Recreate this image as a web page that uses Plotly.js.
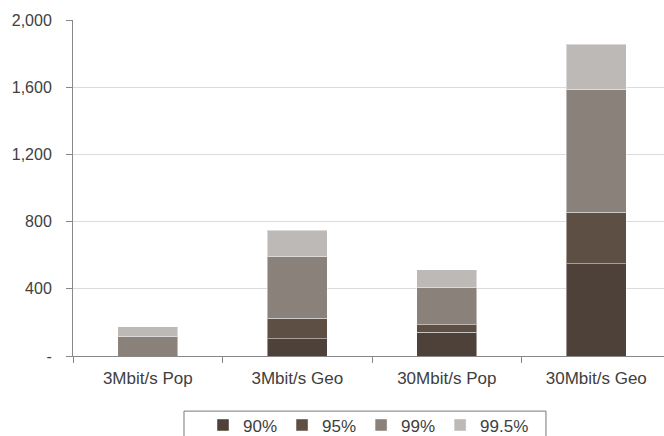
<!DOCTYPE html>
<html><head><meta charset="utf-8">
<script src="https://cdn.plot.ly/plotly-3.0.1.min.js"></script>
<style>body{margin:0;padding:0;background:#fff}#chart{width:664px;height:436px}</style>
</head><body><div id="chart"></div>
<script>
const categories = ["3Mbit/s Pop", "3Mbit/s Geo", "30Mbit/s Pop", "30Mbit/s Geo"];
const seriesNames = ["90%", "95%", "99%", "99.5%"];
const s90 = [0, 102, 142, 549];
const s95 = [0, 123, 44, 307];
const s99 = [114, 369, 224, 732];
const s995 = [60, 155, 103, 268];
const yTickVals = [0, 400, 800, 1200, 1600, 2000];
const yTickText = ["-", "400", "800", "1,200", "1,600", "2,000"];

const colors = ["#4e4139", "#5e4f45", "#8a817a", "#bdb9b6"];
const values = [s90, s95, s99, s995];
const traces = values.map((v, i) => ({
  type: "bar", x: categories, y: v, name: seriesNames[i],
  marker: {color: colors[i], line: {color: "rgba(255,255,255,0.45)", width: 1}},
  width: 0.40
}));

const layout = {
  width: 664, height: 436,
  margin: {l: 73, r: 0, t: 20, b: 80, autoexpand: false},
  barmode: "stack",
  paper_bgcolor: "#fff", plot_bgcolor: "#fff",
  font: {family: "Liberation Sans, Arial, sans-serif", size: 16, color: "#404040"},
  showlegend: true,
  legend: {orientation: "h", x: 0.5, xanchor: "center", y: -0.153, yanchor: "top",
    bgcolor: "rgba(0,0,0,0)",
    font: {size: 17, color: "#404040"},
    traceorder: "normal", itemclick: false},
  xaxis: {type: "category", range: [-0.5, 3.453], tickson: "boundaries", ticks: "outside", ticklen: 6,
    tickcolor: "#888", showline: true, linecolor: "#888", linewidth: 1,
    showgrid: false, tickfont: {size: 17}, ticklabelstandoff: 7},
  yaxis: {range: [0, 2000], tickvals: yTickVals, ticktext: yTickText,
    ticks: "outside", ticklen: 6, tickcolor: "#888", showline: true,
    linecolor: "#888", linewidth: 1, gridcolor: "#dcdcdc", zeroline: false,
    tickfont: {size: 16}, ticklabelstandoff: 11},
  shapes: [{type: "rect", xref: "paper", yref: "paper", x0: 0.1878, x1: 0.8003,
    y0: -0.164, y1: -0.4, line: {color: "#777", width: 1}, fillcolor: "rgba(0,0,0,0)"}]
};
Plotly.newPlot("chart", traces, layout, {displayModeBar: false, staticPlot: true});
</script></body></html>
